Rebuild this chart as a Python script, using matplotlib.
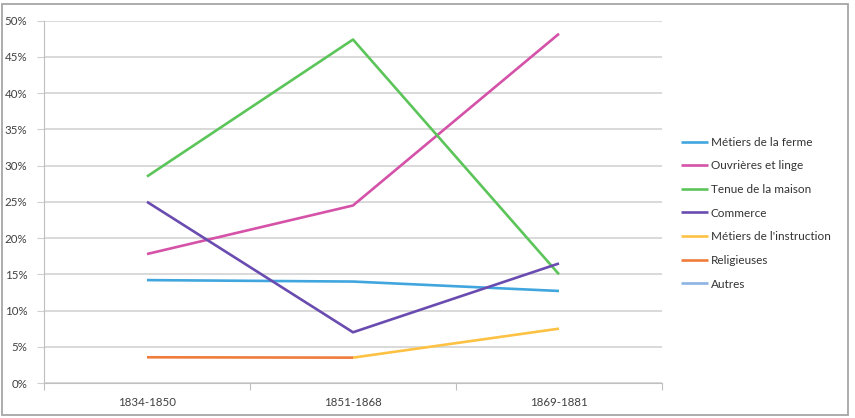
import matplotlib
matplotlib.use("Agg")
import matplotlib.pyplot as plt
from matplotlib.patches import Rectangle
from matplotlib.ticker import FuncFormatter, FixedLocator
import numpy as np

periods = ["1834-1850", "1851-1868", "1869-1881"]
series_names = ["Métiers de la ferme", "Ouvrières et linge", "Tenue de la maison",
                "Commerce", "Métiers de l'instruction", "Religieuses", "Autres"]
ferme = [14.2, 14.0, 12.7]
ouvrieres = [17.8, 24.5, 48.2]
tenue = [28.5, 47.4, 15.0]
commerce = [25.0, 7.0, 16.5]
instruction = [np.nan, 3.5, 7.5]
religieuses = [3.55, 3.5, np.nan]
autres = [np.nan, np.nan, np.nan]
colors = ["#41A6DE", "#D452A8", "#5CC55A", "#6A4CB0", "#FDC143", "#F07C3C", "#8DB3E2"]

plt.rcParams['font.family'] = ['Lato', 'DejaVu Sans']

fig = plt.figure(figsize=(8.55, 4.18), dpi=100)
ax = fig.add_axes([44 / 855, 35 / 418, 618 / 855, 362.3 / 418])

x = np.arange(len(periods))
all_series = [ferme, ouvrieres, tenue, commerce, instruction, religieuses, autres]
for name, vals, c in zip(series_names, all_series, colors):
    ax.plot(x, vals, color=c, lw=1.9, label=name, solid_capstyle='butt')

ax.set_xlim(-0.5, 2.5)
ax.set_ylim(0, 50)
ax.set_yticks(np.arange(0, 51, 5))
ax.yaxis.set_major_formatter(FuncFormatter(lambda v, p: "%d%%" % v))
ax.grid(axis='y', color='#CFCFCF', lw=1.1)
ax.set_axisbelow(True)

# boundary ticks between categories, labels centred on categories
ax.xaxis.set_major_locator(FixedLocator([-0.5, 0.5, 1.5, 2.5]))
ax.xaxis.set_major_formatter(FuncFormatter(lambda v, p: ""))
ax.xaxis.set_minor_locator(FixedLocator(x))
ax.set_xticklabels(periods, minor=True)
ax.tick_params(axis='x', which='major', length=5, color='#BFBFBF', direction='out')
ax.tick_params(axis='x', which='minor', length=0, pad=10, labelsize=8.3, labelcolor='#404040')
ax.tick_params(axis='y', length=5, color='#CFCFCF', pad=7, labelsize=8.3, labelcolor='#404040')

for s in ['top', 'right']:
    ax.spines[s].set_visible(False)
ax.spines['left'].set_color('#BFBFBF')
ax.spines['bottom'].set_color('#BFBFBF')

fig.legend(loc='upper left', bbox_to_anchor=(676 / 855, 1 - 132 / 418), frameon=False,
           fontsize=8.5, handlelength=2.3, handletextpad=0.25, labelspacing=1.07,
           labelcolor='#333333', borderaxespad=0)

fig.patches.append(Rectangle((2 / 855, 3 / 418), 846 / 855, 411 / 418, transform=fig.transFigure,
                             fill=False, edgecolor='#A6A6A6', lw=1.3))

fig.savefig("out.png", dpi=100)
